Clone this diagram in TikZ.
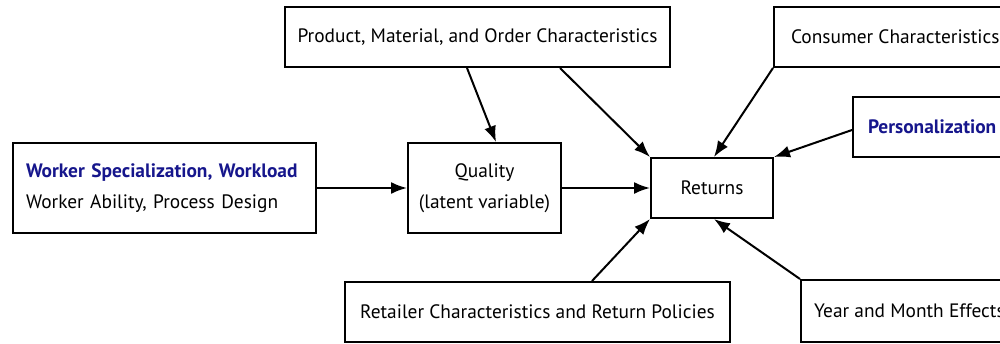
\documentclass[tikz,border=0pt]{standalone}
\usepackage{fontspec}
\setmainfont{PT Sans}
\usetikzlibrary{arrows.meta}
\definecolor{hl}{RGB}{22,22,140}
\begin{document}
\begin{tikzpicture}[x=0.5pt,y=-0.5pt,
  box/.style={draw,line width=1pt,inner sep=0pt,font=\fontsize{9.7}{11}\selectfont},
  arr/.style={line width=1pt,-{Latex[length=8pt,width=6pt]}}]
\clip (0,0) rectangle (1000,343);
\useasboundingbox (0,0) rectangle (1000,343);
\node[box,minimum width=192.5pt,minimum height=30pt] (prod) at (477.5,37) {Product, Material, and Order Characteristics};
\node[box,anchor=west,inner xsep=8.5pt,minimum height=30pt] (cons) at (773,37) {Consumer Characteristics};
\node[box,anchor=west,inner xsep=7.5pt,minimum height=30pt,text=hl,font=\fontsize{9.7}{11}\selectfont\bfseries] (pers) at (852,127) {Personalization};
\node[box,anchor=west,inner xsep=6.5pt,text width=138.5pt,minimum height=45pt,align=left] (work) at (12,188) {\textcolor{hl}{\bfseries Worker Specialization, Workload}\\[4.5pt]Worker Ability, Process Design};
\node[box,minimum width=76.5pt,minimum height=45pt,align=center] (qual) at (484.5,188) {Quality\\[4.5pt](latent variable)};
\node[box,minimum width=61pt,minimum height=30pt] (ret) at (712,188) {Returns};
\node[box,minimum width=192.5pt,minimum height=30pt] (reta) at (537.5,312) {Retailer Characteristics and Return Policies};
\node[box,anchor=west,inner xsep=6.5pt,minimum height=31pt] (year) at (800,311) {Year and Month Effects};
\draw[arr] ([xshift=-5.25pt]prod.south) -- ([xshift=5.75pt]qual.north);
\draw[arr] ([xshift=41.25pt]prod.south) -- (ret.north west);
\draw[arr] (cons.south west) -- ([xshift=1pt]ret.north);
\draw[arr] ([yshift=-1.5pt]pers.west) -- (ret.north east);
\draw[arr] (work.east) -- (qual.west);
\draw[arr] (qual.east) -- (ret.west);
\draw[arr] ([xshift=27.25pt]reta.north) -- (ret.south west);
\draw[arr] (year.north west) -- ([xshift=1pt]ret.south);
\end{tikzpicture}
\end{document}
